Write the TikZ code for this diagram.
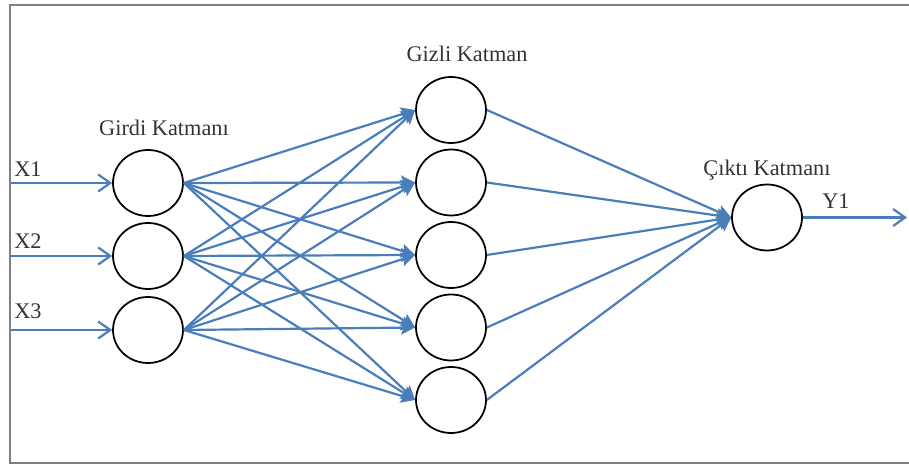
\documentclass[tikz,border=0pt]{standalone}
\usepackage{fontspec}
\setmainfont{Liberation Serif}
\usepackage{xcolor}
\usetikzlibrary{arrows.meta}
\usetikzlibrary{shapes.geometric}
\definecolor{linkblue}{RGB}{74,126,187}
\tikzset{
    neuron/.style = {ellipse, draw=black, line width=1pt, minimum width=1.4cm, minimum height=1.32cm, inner sep=0pt},
    layer_text/.style = {font=\fontsize{12.7}{15}\selectfont, text=black!80, inner sep=0pt},
    link/.style = {draw=linkblue, line width=1.25pt, -{Stealth[length=2.8mm, width=2.8mm, inset=0.5mm]}},
    feed/.style = {draw=linkblue, line width=1.25pt, -{Straight Barb[length=2.4mm, width=3.4mm]}},
    frame/.style = {draw=black!50, line width=1.2pt}
}

\begin{document}
\begin{tikzpicture}[x=0.02cm, y=-0.02cm]
    \useasboundingbox (0,0) rectangle (909,465);
    \draw[frame] (930,5) -- (10,5) -- (10,463) -- (930,463);

    % input layer
    \node [neuron] (in1) at (148,183) {};
    \node [neuron] (in2) at (148,256) {};
    \node [neuron] (in3) at (148,330) {};
    % hidden layer
    \node [neuron] (h1) at (451,110) {};
    \node [neuron] (h2) at (451,182.5) {};
    \node [neuron] (h3) at (451,255) {};
    \node [neuron] (h4) at (451,327.5) {};
    \node [neuron] (h5) at (451,400) {};
    % output layer
    \node [neuron] (out) at (767,217.5) {};

    \node [layer_text] (t_in) at (164,128) {Girdi Katmanı};
    \node [layer_text] (t_hid) at (467,54) {Gizli Katman};
    \node [layer_text] (t_out) at (767,170) {Çıktı Katmanı};

    \coordinate (x1) at (11,183);
    \coordinate (x2) at (11,256);
    \coordinate (x3) at (11,330);
    \coordinate (y1) at (907,217.5);
    \node [layer_text] (lx1) at (28,169) {X1};
    \node [layer_text] (lx2) at (28,241) {X2};
    \node [layer_text] (lx3) at (28,311) {X3};
    \node [layer_text] (ly1) at (836,201) {Y1};

    \foreach \i in {1,2,3}
        \draw [feed] (x\i) -- (in\i.west);
    \foreach \i in {1,2,3}
        \foreach \j in {1,...,5}
            \draw [link] (in\i.east) -- (h\j.west);
    \foreach \j in {1,...,5}
        \draw [link] (h\j.east) -- (out.west);
    \draw [feed] (out.east) -- (y1);
\end{tikzpicture}
\end{document}
